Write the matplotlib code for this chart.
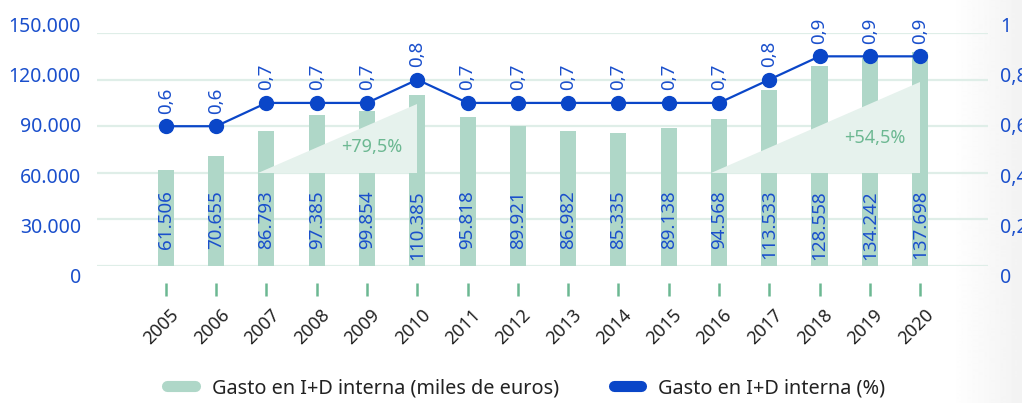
import numpy as np
import matplotlib
matplotlib.use('Agg')
import matplotlib.pyplot as plt
from matplotlib.patches import Polygon
from matplotlib.lines import Line2D
from matplotlib.ticker import FuncFormatter
from matplotlib.transforms import ScaledTranslation

plt.rcParams['font.family'] = ['Noto Sans', 'DejaVu Sans']

# Data
years = ['2005', '2006', '2007', '2008', '2009', '2010', '2011', '2012',
         '2013', '2014', '2015', '2016', '2017', '2018', '2019', '2020']
gasto = [61506, 70655, 86793, 97385, 99854, 110385, 95818, 89921,
         86982, 85335, 89138, 94568, 113533, 128558, 134242, 137698]
gasto_pct = [0.6, 0.6, 0.7, 0.7, 0.7, 0.8, 0.7, 0.7,
             0.7, 0.7, 0.7, 0.7, 0.8, 0.9, 0.9, 0.9]

# growth triangles
growth_from = ['2007', '2016']
growth_to = ['2010', '2020']
growth_top = [104000, 118500]
growth_base = 60000
growth_labels = ['+79,5%', '+54,5%']

BAR = '#afd7c8'
LINE = '#0a46c8'
BLUE = '#1a4fcc'
GRID = '#dfeee8'
TRI = '#e6f2ed'
GREEN = '#6cb892'

fig = plt.figure(figsize=(10.22, 4.03), dpi=100)
fig.patch.set_facecolor('white')

# soft grey fade on the right edge
bg = fig.add_axes([0, 0, 1, 1], zorder=-10)
bg.axis('off')
xs = np.linspace(0, 1, 1022)
grad = np.where(xs < 0.93, 1.0, 1.0 - (xs - 0.93) / 0.07 * 0.05)
bg.imshow(grad[np.newaxis, :], cmap='gray', vmin=0, vmax=1, aspect='auto',
          extent=[0, 1, 0, 1])
bg.set_xlim(0, 1)
bg.set_ylim(0, 1)

ax = fig.add_axes([0.0949, 0.34, 0.8718, 0.578])
ax.patch.set_alpha(0)
x = np.arange(len(years))
bar_w = 0.32

ax.bar(x, gasto, width=bar_w, color=BAR, zorder=2)
ax.set_xlim(-1.37, len(years) - 1 + 1.35)
ax.set_ylim(0, 150000)
ax.set_yticks(np.arange(0, 150001, 30000))
ax.yaxis.set_major_formatter(FuncFormatter(lambda v, p: f'{int(v):,}'.replace(',', '.')))
ax.grid(axis='y', color=GRID, linewidth=1.6)
ax.set_axisbelow(True)
for s in ax.spines.values():
    s.set_visible(False)
ax.spines['bottom'].set_position(('outward', 12.2))
ax.tick_params(axis='y', length=0, pad=11.5, labelsize=14, labelcolor=BLUE)
ax.tick_params(axis='x', length=9.4, width=1.8, color=GREEN, direction='out',
               pad=7, labelsize=13, labelcolor='#222222')
ax.set_xticks(x)
ax.set_xticklabels(years, rotation=45, ha='right', va='top', rotation_mode='anchor')
for lab in ax.get_xticklabels():
    lab.set_transform(lab.get_transform() + ScaledTranslation(4 / 100, 0, fig.dpi_scale_trans))


def spread_labels(labels):
    # value labels sit a bit wider apart than the grid lines
    for i, lab in enumerate(labels):
        dy = (-10 + 3.8 * i) / 100
        lab.set_transform(lab.get_transform() + ScaledTranslation(0, dy, fig.dpi_scale_trans))


spread_labels(ax.get_yticklabels())

# value labels inside bars
for xi, v in zip(x, gasto):
    ax.text(xi, 49000, f'{v:,}'.replace(',', '.'), rotation=90, ha='center', va='top',
            color=BLUE, fontsize=13.5, zorder=4)

# growth triangles
for f, t, top, lab in zip(growth_from, growth_to, growth_top, growth_labels):
    x0 = years.index(f) - bar_w / 2
    x1 = years.index(t)
    tri = Polygon([(x0, growth_base), (x1, growth_base), (x1, top)], closed=True,
                  facecolor=TRI, edgecolor='none', zorder=3)
    ax.add_patch(tri)
    ax.text(x1 - 0.9, growth_base + 0.38 * (top - growth_base), lab, ha='center', va='center',
            color=GREEN, fontsize=13, zorder=4)

# percentage line
ax2 = ax.twinx()
ax2.plot(x, gasto_pct, color=LINE, linewidth=1.6, marker='o', markersize=10, zorder=5)
ax2.set_ylim(0, 1)
ax2.set_yticks([0, 0.2, 0.4, 0.6, 0.8, 1.0])
ax2.yaxis.set_major_formatter(FuncFormatter(lambda v, p: f'{v:g}'.replace('.', ',')))
for s in ax2.spines.values():
    s.set_visible(False)
ax2.tick_params(axis='y', length=0, pad=9, labelsize=14, labelcolor=BLUE)
spread_labels(ax2.get_yticklabels())
for xi, v in zip(x, gasto_pct):
    ax2.annotate(f'{v:g}'.replace('.', ','), (xi, v), xytext=(0, 9), textcoords='offset points',
                 rotation=90, ha='center', va='bottom', color=BLUE, fontsize=13.5,
                 annotation_clip=False)

handles = [Line2D([], [], color=BAR, linewidth=8, solid_capstyle='round'),
           Line2D([], [], color=LINE, linewidth=8, solid_capstyle='round')]
fig.legend(handles, ['Gasto en I+D interna (miles de euros)', 'Gasto en I+D interna (%)'],
           loc='center', bbox_to_anchor=(0.515, 0.037), ncol=2, frameon=False,
           fontsize=14.3, handlelength=1.4, handletextpad=0.85, columnspacing=2.75,
           labelcolor='#222222')

fig.savefig('out.png', dpi=100)
